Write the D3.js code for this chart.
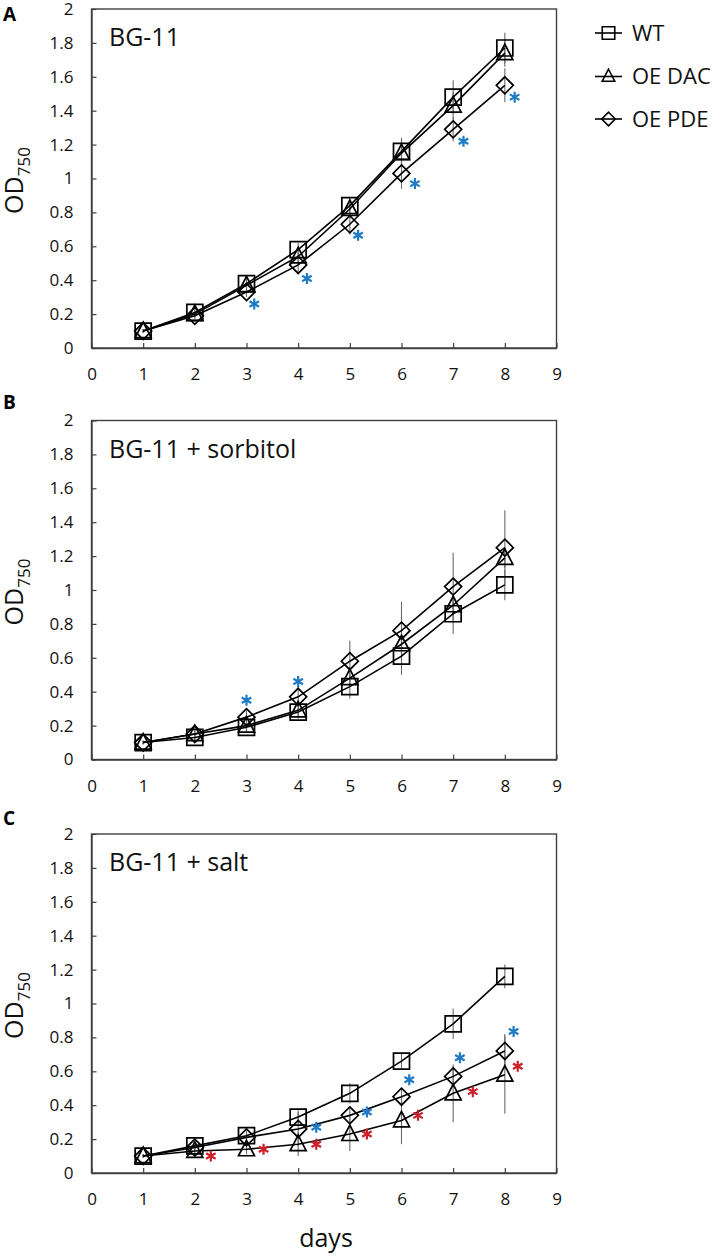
<!DOCTYPE html>
<html>
<head>
<meta charset="utf-8">
<script src="https://cdn.jsdelivr.net/npm/d3@7"></script>
<style>
  html, body { margin: 0; padding: 0; background: #fff; }
  svg { display: block; font-family: "Open Sans", "Noto Sans", sans-serif; }
</style>
</head>
<body>
<svg id="chart" width="721" height="1258"></svg>
<script>
// ---------------- data ----------------
const days = [1, 2, 3, 4, 5, 6, 7, 8];
const xTicks = [0, 1, 2, 3, 4, 5, 6, 7, 8, 9];
const yTicks = [0, 0.2, 0.4, 0.6, 0.8, 1, 1.2, 1.4, 1.6, 1.8, 2];
const yTickLabels = ["0", "0.2", "0.4", "0.6", "0.8", "1", "1.2", "1.4", "1.6", "1.8", "2"];
const seriesNames = ["WT", "OE DAC", "OE PDE"];
const seriesShapes = ["square", "triangle", "diamond"];
const panelLetters = ["A", "B", "C"];
const panelTitles = ["BG-11", "BG-11 + sorbitol", "BG-11 + salt"];

// Panel A: BG-11
const A_WT      = [0.10, 0.21, 0.38, 0.58, 0.84, 1.16, 1.48, 1.77];
const A_WT_err  = [0.01, 0.02, 0.03, 0.04, 0.05, 0.08, 0.10, 0.09];
const A_DAC     = [0.10, 0.20, 0.37, 0.54, 0.82, 1.15, 1.43, 1.74];
const A_DAC_err = [0.01, 0.02, 0.03, 0.04, 0.05, 0.07, 0.08, 0.08];
const A_PDE     = [0.10, 0.19, 0.33, 0.49, 0.73, 1.03, 1.29, 1.55];
const A_PDE_err = [0.01, 0.02, 0.03, 0.04, 0.06, 0.09, 0.07, 0.10];
const A_starsBlue = [[3.15, 0.26], [4.17, 0.41], [5.16, 0.665], [6.26, 0.97], [7.2, 1.22], [8.19, 1.48]];
const A_starsRed = [];

// Panel B: BG-11 + sorbitol
const B_WT      = [0.10, 0.13, 0.19, 0.28, 0.43, 0.61, 0.86, 1.03];
const B_WT_err  = [0.01, 0.02, 0.03, 0.04, 0.07, 0.11, 0.12, 0.09];
const B_DAC     = [0.10, 0.15, 0.20, 0.29, 0.48, 0.68, 0.91, 1.19];
const B_DAC_err = [0.01, 0.02, 0.03, 0.04, 0.05, 0.06, 0.06, 0.06];
const B_PDE     = [0.10, 0.15, 0.25, 0.37, 0.58, 0.76, 1.02, 1.25];
const B_PDE_err = [0.01, 0.03, 0.04, 0.06, 0.12, 0.17, 0.20, 0.22];
const B_starsBlue = [[3.0, 0.35], [4.0, 0.46]];
const B_starsRed = [];

// Panel C: BG-11 + salt
const C_WT      = [0.10, 0.16, 0.22, 0.33, 0.47, 0.66, 0.88, 1.16];
const C_WT_err  = [0.01, 0.02, 0.03, 0.04, 0.06, 0.05, 0.09, 0.07];
const C_DAC     = [0.10, 0.13, 0.14, 0.17, 0.23, 0.31, 0.47, 0.58];
const C_DAC_err = [0.01, 0.02, 0.03, 0.07, 0.10, 0.14, 0.17, 0.23];
const C_PDE     = [0.10, 0.15, 0.21, 0.26, 0.34, 0.45, 0.57, 0.72];
const C_PDE_err = [0.01, 0.02, 0.03, 0.10, 0.05, 0.05, 0.06, 0.10];
const C_starsBlue = [[4.35, 0.27], [5.33, 0.36], [6.15, 0.55], [7.13, 0.68], [8.17, 0.835]];
const C_starsRed = [[2.31, 0.10], [3.33, 0.14], [4.35, 0.17], [5.33, 0.23], [6.32, 0.34], [7.38, 0.48], [8.25, 0.63]];

// build panel table from the arrays
const panels = [
  { letter: panelLetters[0], title: panelTitles[0],
    series: [[A_WT, A_WT_err], [A_DAC, A_DAC_err], [A_PDE, A_PDE_err]],
    blue: A_starsBlue, red: A_starsRed },
  { letter: panelLetters[1], title: panelTitles[1],
    series: [[B_WT, B_WT_err], [B_DAC, B_DAC_err], [B_PDE, B_PDE_err]],
    blue: B_starsBlue, red: B_starsRed },
  { letter: panelLetters[2], title: panelTitles[2],
    series: [[C_WT, C_WT_err], [C_DAC, C_DAC_err], [C_PDE, C_PDE_err]],
    blue: C_starsBlue, red: C_starsRed }
];

// ---------------- layout ----------------
const svg = d3.select("#chart");
const plotLeft = 91.5, plotRight = 556.5, plotH = 339;
const plotTops = [9, 420.5, 834];
const letterBaselines = [21, 409, 825];
const BLUE = "#1f7bc4", RED = "#cc1f2a";

function markerPath(shape, s) {
  const h = s / 2;
  if (shape === "square") return `M${-h},${-h}H${h}V${h}H${-h}Z`;
  if (shape === "triangle") return `M0,${-h - 1}L${h},${h - 1.5}L${-h},${h - 1.5}Z`;
  return `M0,${-h - 0.5}L${h + 0.5},0L0,${h + 0.5}L${-h - 0.5},0Z`;
}
function starPath(r) {
  const c = r * Math.cos(Math.PI / 6), s = r * Math.sin(Math.PI / 6);
  return `M0,${-r}V${r}M${-c},${-s}L${c},${s}M${-c},${s}L${c},${-s}`;
}

panels.forEach((p, i) => {
  const top = plotTops[i];
  const x = d3.scaleLinear().domain([0, 9]).range([plotLeft, plotRight]);
  const y = d3.scaleLinear().domain([0, 2]).range([top + plotH, top]);
  const g = svg.append("g");

  // frame
  g.append("rect")
    .attr("x", plotLeft).attr("y", top)
    .attr("width", plotRight - plotLeft).attr("height", plotH)
    .attr("fill", "none").attr("stroke", "#404040").attr("stroke-width", 1.4);

  // x axis
  const xAxis = d3.axisBottom(x).tickValues(xTicks).tickSizeInner(-5).tickSizeOuter(0)
    .tickFormat(d3.format("d")).tickPadding(18);
  const gx = g.append("g").attr("transform", `translate(0,${top + plotH})`).call(xAxis);
  gx.select(".domain").attr("stroke", "#404040").attr("stroke-width", 1.4);
  gx.selectAll(".tick line").attr("stroke", "#404040").attr("stroke-width", 1.2);
  gx.selectAll(".tick text").attr("font-size", 17).attr("fill", "#111")
    .attr("font-family", "Open Sans").attr("dy", "0.85em");

  // y axis
  const yAxis = d3.axisLeft(y).tickValues(yTicks).tickSizeInner(-5).tickSizeOuter(0)
    .tickFormat((d, k) => yTickLabels[k]).tickPadding(18);
  const gy = g.append("g").attr("transform", `translate(${plotLeft},0)`).call(yAxis);
  gy.select(".domain").attr("stroke", "#404040").attr("stroke-width", 1.4);
  gy.selectAll(".tick line").attr("stroke", "#404040").attr("stroke-width", 1.2);
  gy.selectAll(".tick text").attr("font-size", 17).attr("fill", "#111")
    .attr("font-family", "Open Sans");

  // y title
  const yt = g.append("text")
    .attr("transform", `translate(23,${top + plotH / 2 + 2}) rotate(-90)`)
    .attr("text-anchor", "middle").attr("font-size", 25).attr("fill", "#111");
  yt.append("tspan").text("OD");
  yt.append("tspan").attr("font-size", 17).attr("dy", 7).text("750");

  // panel letter
  g.append("text").attr("x", 3).attr("y", letterBaselines[i])
    .attr("font-size", 19).attr("font-weight", "bold").attr("fill", "#000").text(p.letter);

  // title
  g.append("text").attr("x", 109).attr("y", top + 37)
    .attr("font-size", 25).attr("fill", "#111").text(p.title);

  // error bars
  p.series.forEach(([vals, errs]) => {
    g.append("g").selectAll("line").data(days).join("line")
      .attr("x1", d => x(d)).attr("x2", d => x(d))
      .attr("y1", (d, k) => y(vals[k] - errs[k]))
      .attr("y2", (d, k) => y(vals[k] + errs[k]))
      .attr("stroke", "#6a6a6a").attr("stroke-width", 1.1);
  });

  // lines
  const line = d3.line().x((d, k) => x(days[k])).y(d => y(d));
  p.series.forEach(([vals]) => {
    g.append("path").datum(vals).attr("d", line)
      .attr("fill", "none").attr("stroke", "#000").attr("stroke-width", 1.6);
  });

  // markers
  p.series.forEach(([vals], si) => {
    g.append("g").selectAll("path").data(vals).join("path")
      .attr("transform", (d, k) => `translate(${x(days[k])},${y(d)})`)
      .attr("d", markerPath(seriesShapes[si], 16))
      .attr("fill", "none").attr("stroke", "#000").attr("stroke-width", 1.7);
  });

  // significance stars
  [[p.blue, BLUE], [p.red, RED]].forEach(([arr, col]) => {
    g.append("g").selectAll("path").data(arr).join("path")
      .attr("transform", d => `translate(${x(d[0])},${y(d[1])})`)
      .attr("d", starPath(5.5))
      .attr("fill", "none").attr("stroke", col).attr("stroke-width", 2.2)
      .attr("stroke-linecap", "butt");
  });
});

// x title
svg.append("text").attr("x", 326).attr("y", 1247).attr("text-anchor", "middle")
  .attr("font-size", 25).attr("fill", "#111").text("days");

// legend
const legendYs = [33, 76.5, 119];
const leg = svg.append("g");
seriesNames.forEach((name, si) => {
  const ly = legendYs[si];
  leg.append("line").attr("x1", 595).attr("x2", 622).attr("y1", ly).attr("y2", ly)
    .attr("stroke", "#000").attr("stroke-width", 1.6);
  leg.append("path").attr("transform", `translate(608.5,${ly})`)
    .attr("d", markerPath(seriesShapes[si], 12.5))
    .attr("fill", "none").attr("stroke", "#000").attr("stroke-width", 1.6);
  leg.append("text").attr("x", 632).attr("y", ly).attr("dy", "0.36em")
    .attr("font-size", 22).attr("fill", "#111").text(name);
});
</script>
</body>
</html>
